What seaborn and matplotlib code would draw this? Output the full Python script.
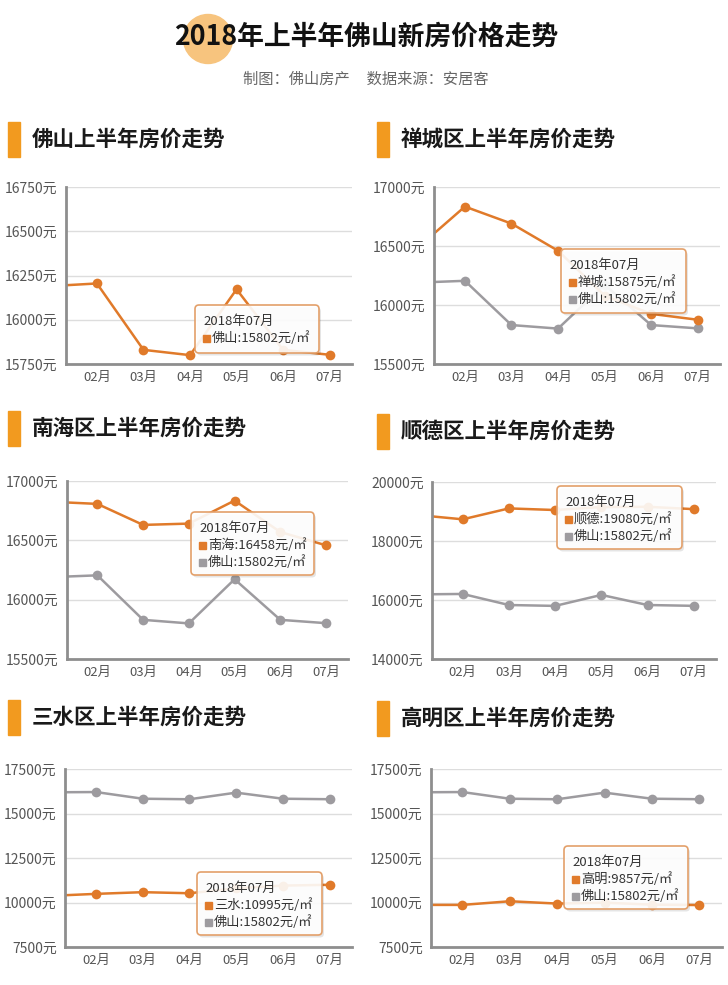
import matplotlib
matplotlib.use('Agg')
import matplotlib.pyplot as plt
from matplotlib.patches import FancyBboxPatch, Circle, Rectangle
import seaborn as sns
import pandas as pd

# 1. Données (prix moyen, 元/㎡), 01月 est partiellement hors cadre
months = [1, 2, 3, 4, 5, 6, 7]
month_labels = ['01月', '02月', '03月', '04月', '05月', '06月', '07月']
foshan = [16190, 16205, 15830, 15800, 16172, 15830, 15802]
chancheng = [16490, 16834, 16690, 16460, 16080, 15925, 15875]
nanhai = [16825, 16807, 16630, 16641, 16835, 16570, 16458]
shunde = [18885, 18735, 19105, 19050, 19150, 19160, 19080]
sanshui = [10370, 10485, 10580, 10520, 10800, 10950, 10995]
gaoming = [9865, 9865, 10070, 9940, 9990, 9880, 9857]

districts = ['佛山', '禅城', '南海', '顺德', '三水', '高明']
district_values = [foshan, chancheng, nanhai, shunde, sanshui, gaoming]
panel_titles = ['佛山上半年房价走势', '禅城区上半年房价走势', '南海区上半年房价走势',
                '顺德区上半年房价走势', '三水区上半年房价走势', '高明区上半年房价走势']
yticks_list = [[15750, 16000, 16250, 16500, 16750],
               [15500, 16000, 16500, 17000],
               [15500, 16000, 16500, 17000],
               [14000, 16000, 18000, 20000],
               [7500, 10000, 12500, 15000, 17500],
               [7500, 10000, 12500, 15000, 17500]]

ORANGE = '#E07A2A'
GREY = '#9D9B9F'
BAR = '#F29A1F'

# 2. Mise en page (pixels)
W, H = 728, 985
axes_px = [(66, 187, 352, 364), (434, 187, 720, 364),
           (67, 481, 348, 659), (432, 482, 716, 659),
           (65, 769, 352, 947), (431, 769, 722, 947)]
head_px = [(8, 139), (377, 139), (8, 428), (377, 431), (8, 717), (377, 718)]
tip_px = [(195, 305, 319, 353), (561, 249, 686, 313), (191, 512, 314, 575),
          (557, 486, 682, 549), (197, 872, 322, 935), (564, 846, 688, 909)]

sns.set_style('white')
plt.rcParams['font.family'] = ['Noto Sans CJK SC', 'DejaVu Sans']

fig = plt.figure(figsize=(W / 100, H / 100), dpi=100)
fig.patch.set_facecolor('white')
T = fig.dpi_scale_trans


def ix(x):
    return x / 100


def iy(y):
    return (H - y) / 100


# Titre
fig.patches.append(Circle((ix(208), iy(39)), 0.245, transform=T,
                          color='#F7C47E', zorder=0))
fig.text(ix(366), iy(37), '2018年上半年佛山新房价格走势', transform=T,
         ha='center', va='center', fontsize=19.3, fontweight='bold', color='#111111', zorder=2)
fig.text(ix(366), iy(79), '制图：佛山房产     数据来源：安居客', transform=T,
         ha='center', va='center', fontsize=11, color='#666666')

for i, name in enumerate(districts):
    l, t, r, b = axes_px[i]
    ax = fig.add_axes([l / W, 1 - b / H, (r - l) / W, (b - t) / H])

    if i == 0:
        df = pd.DataFrame({'月份': months, '价格': foshan, '区域': '佛山'})
        palette = {'佛山': ORANGE}
    else:
        df = pd.concat([
            pd.DataFrame({'月份': months, '价格': foshan, '区域': '佛山'}),
            pd.DataFrame({'月份': months, '价格': district_values[i], '区域': name}),
        ])
        palette = {name: ORANGE, '佛山': GREY}

    sns.lineplot(data=df, x='月份', y='价格', hue='区域', palette=palette,
                 marker='o', markersize=7, markeredgewidth=0, linewidth=1.8,
                 legend=False, ax=ax)

    yt = yticks_list[i]
    ax.set_ylim(yt[0], yt[-1])
    ax.set_xlim(1.336, 7.48)
    ax.set_yticks(yt)
    ax.set_yticklabels([f'{v}元' for v in yt])
    ax.set_xticks(months[1:])
    ax.set_xticklabels(month_labels[1:])
    ax.set_xlabel('')
    ax.set_ylabel('')
    ax.grid(axis='y', color='#DDDDDD', linewidth=1)
    ax.set_axisbelow(True)
    sns.despine(ax=ax)
    for s in ['left', 'bottom']:
        ax.spines[s].set_color('#8E8E8E')
        ax.spines[s].set_linewidth(2)
    ax.tick_params(axis='y', length=0, pad=6, labelsize=10, labelcolor='#555555')
    ax.tick_params(axis='x', length=0, pad=5, labelsize=9.5, labelcolor='#555555')
    ax.patch.set_alpha(0)

    # En-tête du panneau
    hx, hy = head_px[i]
    fig.patches.append(Rectangle((ix(hx), iy(hy + 18)), 0.12, 0.35, transform=T,
                                 color=BAR))
    fig.text(ix(hx + 24), iy(hy), panel_titles[i], transform=T, ha='left', va='center',
             fontsize=15.5, fontweight='bold', color='#1A1A1A')

    # Infobulle
    x0, y0, x1, y1 = tip_px[i]
    w, h = (x1 - x0) / 100, (y1 - y0) / 100
    fig.patches.append(FancyBboxPatch((ix(x0) + 0.02, iy(y1) - 0.025), w, h,
                                      boxstyle='round,pad=0,rounding_size=0.04',
                                      transform=T, fc=(0, 0, 0, 0.10), ec='none', zorder=5))
    fig.patches.append(FancyBboxPatch((ix(x0), iy(y1)), w, h,
                                      boxstyle='round,pad=0,rounding_size=0.04',
                                      transform=T, fc=(1, 1, 1, 0.9), ec='#E3A06A',
                                      lw=1.2, zorder=6))
    rows = [(name, district_values[i][-1], ORANGE)]
    if i > 0:
        rows.append(('佛山', foshan[-1], GREY))
    line_y = y0 + 16.5
    fig.text(ix(x0 + 8), iy(line_y), '2018年' + month_labels[-1], transform=T,
             ha='left', va='center', fontsize=9.5, color='#333333', zorder=7)
    for lab, val, col in rows:
        line_y += 16.8
        fig.patches.append(Rectangle((ix(x0 + 8), iy(line_y + 3.5)), 0.07, 0.07,
                                     transform=T, color=col, zorder=7))
        fig.text(ix(x0 + 17), iy(line_y), f'{lab}:{val}元/㎡', transform=T,
                 ha='left', va='center', fontsize=9.5, color='#333333', zorder=7)

fig.savefig('out.png', dpi=100)
